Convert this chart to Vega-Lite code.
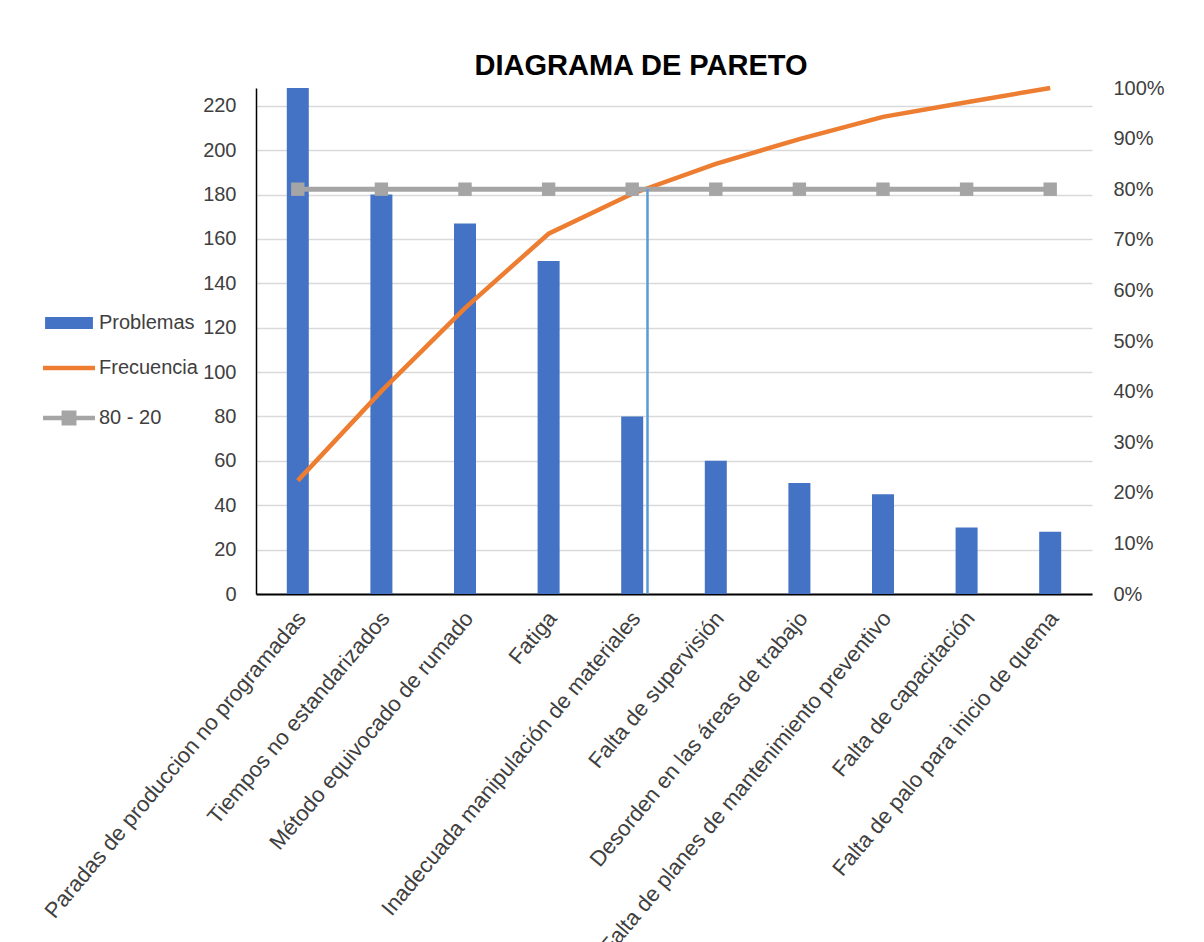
{
  "$schema": "https://vega.github.io/schema/vega-lite/v6.json",
  "autosize": {"type": "none"},
  "width": 836,
  "height": 506,
  "padding": {"left": 256, "top": 88, "right": 112, "bottom": 348},
  "background": "white",
  "title": {
    "text": "DIAGRAMA DE PARETO",
    "font": "Liberation Sans",
    "fontSize": 29,
    "fontWeight": "bold",
    "color": "#000000",
    "anchor": "middle",
    "frame": "group",
    "dx": -33,
    "dy": 11,
    "offset": 8
  },
  "config": {
    "view": {"stroke": null},
    "font": "Liberation Sans",
    "axis": {
      "labelFont": "Liberation Sans",
      "labelFontSize": 20,
      "labelColor": "#404040",
      "ticks": false,
      "title": null
    },
    "legend": {
      "labelFont": "Liberation Sans",
      "labelFontSize": 20,
      "labelColor": "#404040"
    }
  },
  "datasets": {
    "pareto": [
      {"categoria": "Paradas de produccion no programadas", "problemas": 228, "acumulado": 0.224, "meta": 0.8},
      {"categoria": "Tiempos no estandarizados", "problemas": 180, "acumulado": 0.401, "meta": 0.8},
      {"categoria": "Método equivocado de rumado", "problemas": 167, "acumulado": 0.565, "meta": 0.8},
      {"categoria": "Fatiga", "problemas": 150, "acumulado": 0.712, "meta": 0.8},
      {"categoria": "Inadecuada manipulación de materiales", "problemas": 80, "acumulado": 0.791, "meta": 0.8},
      {"categoria": "Falta de supervisión", "problemas": 60, "acumulado": 0.850, "meta": 0.8},
      {"categoria": "Desorden en las áreas de trabajo", "problemas": 50, "acumulado": 0.899, "meta": 0.8},
      {"categoria": "Falta de planes de mantenimiento preventivo", "problemas": 45, "acumulado": 0.943, "meta": 0.8},
      {"categoria": "Falta de capacitación", "problemas": 30, "acumulado": 0.972, "meta": 0.8},
      {"categoria": "Falta de palo para inicio de quema", "problemas": 28, "acumulado": 1.0, "meta": 0.8}
    ],
    "corte": [
      {"categoria": "Inadecuada manipulación de materiales", "desde": 0, "hasta": 0.8}
    ]
  },
  "encoding": {
    "x": {
      "field": "categoria",
      "type": "nominal",
      "sort": null,
      "scale": {"paddingInner": 0, "paddingOuter": 0},
      "axis": {
        "labelAngle": -50,
        "labelAlign": "right",
        "labelBaseline": "middle",
        "labelPadding": 20,
        "labelOffset": 4,
        "labelFontSize": 22,
        "labelLimit": 700,
        "domain": true,
        "domainColor": "#000000",
        "domainWidth": 2,
        "grid": false
      }
    }
  },
  "layer": [
    {
      "data": {"name": "pareto"},
      "mark": {"type": "bar", "size": 22},
      "encoding": {
        "y": {
          "field": "problemas",
          "type": "quantitative",
          "scale": {"domain": [0, 228], "nice": false, "zero": true},
          "axis": {
            "orient": "left",
            "values": [0, 20, 40, 60, 80, 100, 120, 140, 160, 180, 200, 220],
            "domain": true,
            "domainColor": "#000000",
            "domainWidth": 1.5,
            "grid": true,
            "gridColor": "#D9D9D9",
            "gridWidth": 1.5,
            "labelPadding": 20
          }
        },
        "color": {
          "datum": "Problemas",
          "type": "nominal",
          "scale": {
            "domain": ["Problemas", "Frecuencia", "80 - 20"],
            "range": ["#4472C4", "#ED7D31", "#A5A5A5"]
          },
          "legend": {
            "title": null,
            "orient": "none",
            "legendX": -197,
            "legendY": 225,
            "rowPadding": 25,
            "labelOffset": 20,
            "symbolSize": 2704,
            "symbolOpacity": 1,
            "encode": {
              "symbols": {
                "update": {
                  "shape": {"signal": "datum.value === 'Problemas' ? 'M-0.92,-0.23H0.92V0.23H-0.92Z' : datum.value === 'Frecuencia' ? 'M-1,0H1' : 'M-1,0H1M-0.2,-0.2H0.2V0.2H-0.2Z'"},
                  "fill": {"signal": "scale('color', datum.value)"},
                  "stroke": {"signal": "scale('color', datum.value)"},
                  "strokeWidth": {"signal": "datum.value === 'Problemas' ? 0 : 4.5"},
                  "fillOpacity": {"value": 1},
                  "strokeOpacity": {"value": 1}
                }
              }
            }
          }
        }
      }
    },
    {
      "layer": [
        {
          "data": {"name": "pareto"},
          "mark": {"type": "line", "strokeWidth": 4.5},
          "encoding": {
            "y": {
              "field": "acumulado",
              "type": "quantitative",
              "scale": {"domain": [0, 1], "nice": false},
              "axis": {
                "orient": "right",
                "format": ".0%",
                "values": [0, 0.1, 0.2, 0.3, 0.4, 0.5, 0.6, 0.7, 0.8, 0.9, 1.0],
                "domain": false,
                "grid": false,
                "labelPadding": 21
              }
            },
            "color": {"datum": "Frecuencia", "type": "nominal"}
          }
        },
        {
          "data": {"name": "pareto"},
          "mark": {"type": "line", "strokeWidth": 5},
          "encoding": {
            "y": {"field": "meta", "type": "quantitative"},
            "color": {"datum": "80 - 20", "type": "nominal"}
          }
        },
        {
          "data": {"name": "pareto"},
          "mark": {"type": "point", "shape": "square", "filled": true, "size": 180, "color": "#A5A5A5", "opacity": 1},
          "encoding": {
            "y": {"field": "meta", "type": "quantitative"}
          }
        },
        {
          "data": {"name": "corte"},
          "mark": {"type": "rule", "color": "#5B9BD5", "strokeWidth": 2.5},
          "encoding": {
            "x": {"field": "categoria", "type": "nominal", "sort": null, "bandPosition": 0.683},
            "y": {"field": "hasta", "type": "quantitative"},
            "y2": {"field": "desde"}
          }
        }
      ]
    }
  ],
  "resolve": {"scale": {"y": "independent"}}
}
